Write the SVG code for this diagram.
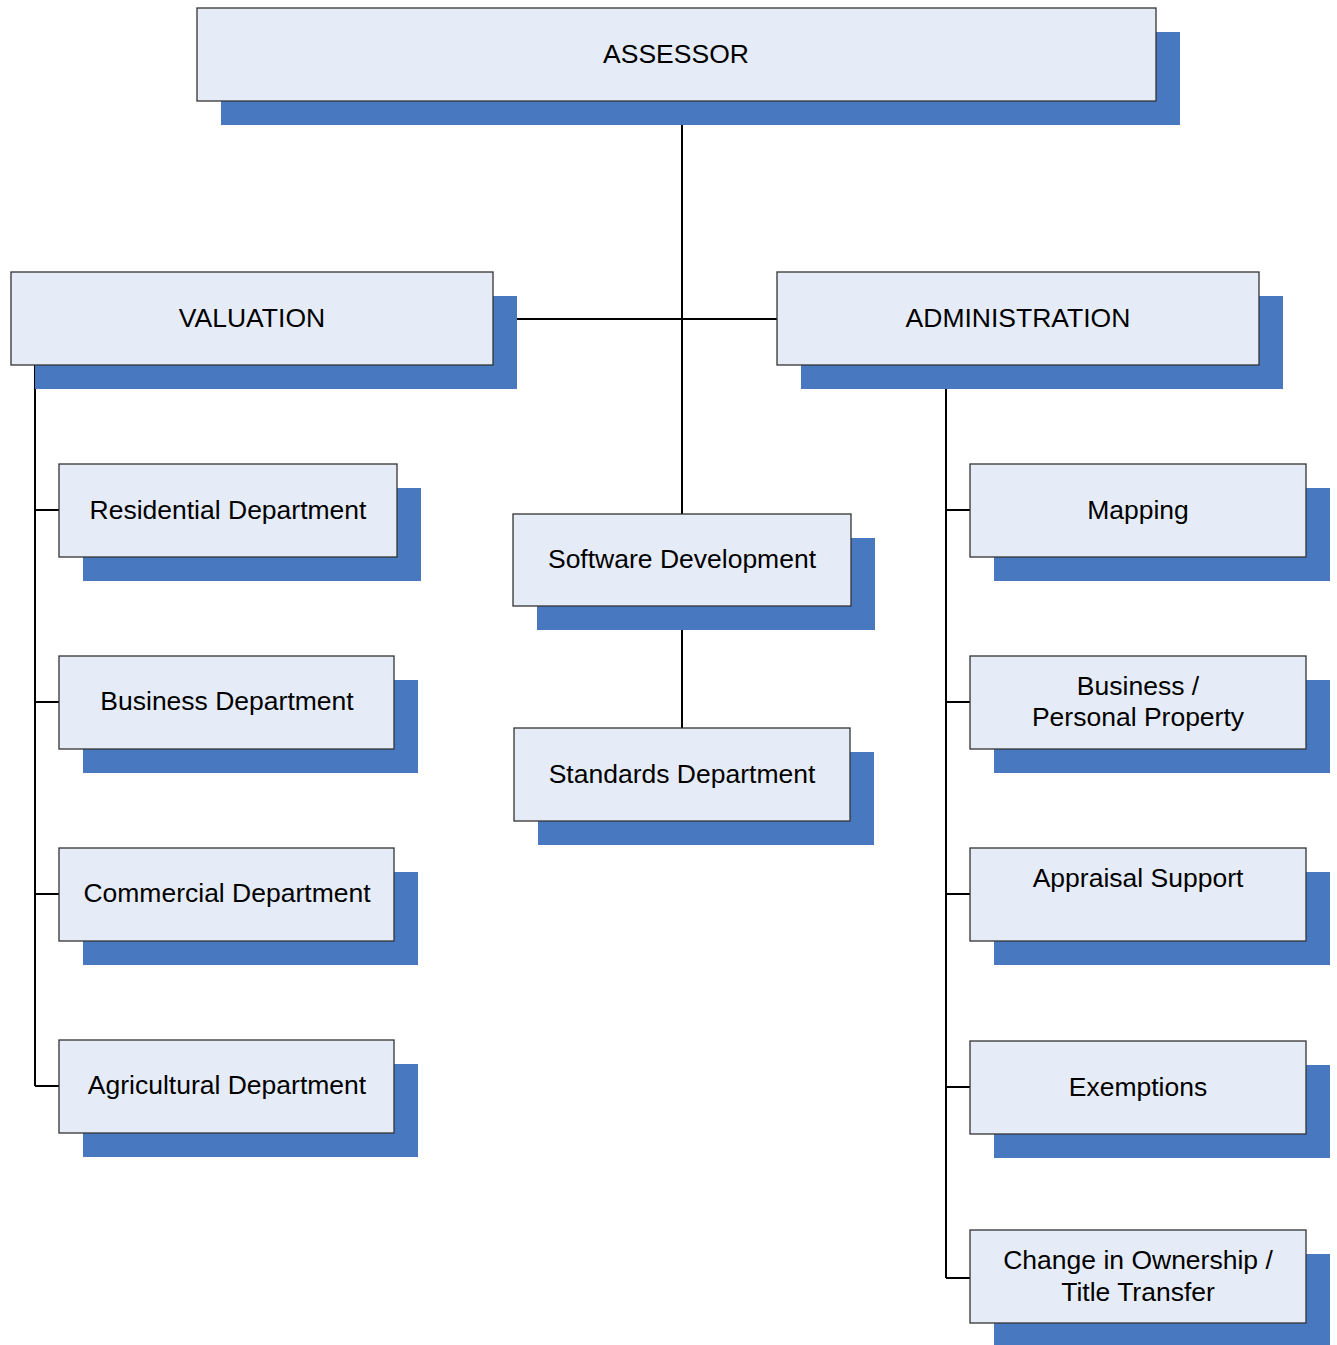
<svg xmlns="http://www.w3.org/2000/svg" width="1337" height="1345" viewBox="0 0 1337 1345">
<style>
.sh{fill:#4878c0}
.bx{fill:#e6ecf7;stroke:#333;stroke-width:1.3}
.t{font-family:"Liberation Sans",Arial,sans-serif;font-size:26.5px;fill:#000;text-anchor:middle}
.c{stroke:#000;stroke-width:2;fill:none}
</style>
<rect width="1337" height="1345" fill="#fff"/>
<g id="connectors">
<path class="c" d="M682 125V514M682 630V728M517 319H777"/>
<path class="c" d="M35 365V1086M35 510H59M35 702H59M35 894H59M35 1086H59"/>
<path class="c" d="M946 389V1278M946 510H970M946 702H970M946 894H970M946 1087H970M946 1278H970"/>
</g>
<g id="assessor"><rect class="sh" x="221" y="32" width="959" height="93"/><rect class="bx" x="197" y="8" width="959" height="93"/><text class="t" x="676" y="63">ASSESSOR</text></g>
<g id="valuation"><rect class="sh" x="35" y="296" width="482" height="93"/><rect class="bx" x="11" y="272" width="482" height="93"/><text class="t" x="252" y="327">VALUATION</text></g>
<g id="administration"><rect class="sh" x="801" y="296" width="482" height="93"/><rect class="bx" x="777" y="272" width="482" height="93"/><text class="t" x="1018" y="327">ADMINISTRATION</text></g>
<g id="residential"><rect class="sh" x="83" y="488" width="338" height="93"/><rect class="bx" x="59" y="464" width="338" height="93"/><text class="t" x="228" y="519">Residential Department</text></g>
<g id="business"><rect class="sh" x="83" y="680" width="335" height="93"/><rect class="bx" x="59" y="656" width="335" height="93"/><text class="t" x="227" y="710">Business Department</text></g>
<g id="commercial"><rect class="sh" x="83" y="872" width="335" height="93"/><rect class="bx" x="59" y="848" width="335" height="93"/><text class="t" x="227" y="902">Commercial Department</text></g>
<g id="agricultural"><rect class="sh" x="83" y="1064" width="335" height="93"/><rect class="bx" x="59" y="1040" width="335" height="93"/><text class="t" x="227" y="1094">Agricultural Department</text></g>
<g id="software"><rect class="sh" x="537" y="538" width="338" height="92"/><rect class="bx" x="513" y="514" width="338" height="92"/><text class="t" x="682" y="568">Software Development</text></g>
<g id="standards"><rect class="sh" x="538" y="752" width="336" height="93"/><rect class="bx" x="514" y="728" width="336" height="93"/><text class="t" x="682" y="783">Standards Department</text></g>
<g id="mapping"><rect class="sh" x="994" y="488" width="336" height="93"/><rect class="bx" x="970" y="464" width="336" height="93"/><text class="t" x="1138" y="519">Mapping</text></g>
<g id="bpp"><rect class="sh" x="994" y="680" width="336" height="93"/><rect class="bx" x="970" y="656" width="336" height="93"/><text class="t" x="1138" y="695">Business /</text><text class="t" x="1138" y="726">Personal Property</text></g>
<g id="appraisal"><rect class="sh" x="994" y="872" width="336" height="93"/><rect class="bx" x="970" y="848" width="336" height="93"/><text class="t" x="1138" y="887">Appraisal Support</text></g>
<g id="exemptions"><rect class="sh" x="994" y="1065" width="336" height="93"/><rect class="bx" x="970" y="1041" width="336" height="93"/><text class="t" x="1138" y="1096">Exemptions</text></g>
<g id="cio"><rect class="sh" x="994" y="1254" width="336" height="93"/><rect class="bx" x="970" y="1230" width="336" height="93"/><text class="t" x="1138" y="1269">Change in Ownership /</text><text class="t" x="1138" y="1301">Title Transfer</text></g>
</svg>
